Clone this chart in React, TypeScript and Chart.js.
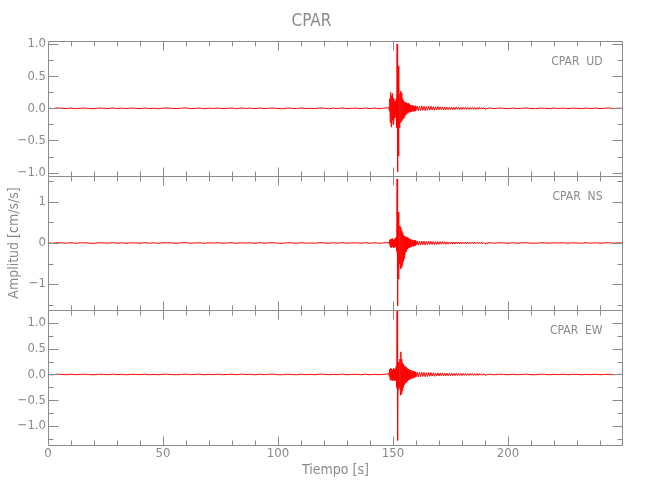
import React, { useEffect, useRef } from "react";
import { Chart, registerables } from "chart.js";

Chart.register(...registerables);

// ---- time samples (s) ----
const TIME_PRE = [0,2,4,6,8,10,12,14,16,18,20,22,24,26,28,30,32,34,36,38,40,42,44,46,48,50,52,54,56,58,60,62,64,66,68,70,72,74,76,78,80,82,84,86,88,90,92,94,96,98,100,102,104,106,108,110,112,114,116,118,120,122,124,126,128,130,132,134,136,138,140,142,144,146,148];
const TIME_EVENT = [148.2,148.4,148.6,148.8,149,149.2,149.4,149.6,149.8,150,150.2,150.4,150.6,150.8,151,151.2,151.4,151.6,151.8,152,152.2,152.4,152.6,152.8,153,153.2,153.4,153.6,153.8,154,154.2,154.4,154.6,154.8,155,155.2,155.4,155.6,155.8,156,156.2,156.4,156.6,156.8,157,157.2,157.4,157.6,157.8,158,158.2,158.4,158.6,158.8,159,159.2,159.4,159.6,159.8,160];
const TIME_CODA = [160.5,161,161.5,162,162.5,163,163.5,164,164.5,165,165.5,166,166.5,167,167.5,168,168.5,169,169.5,170,170.5,171,171.5,172,172.5,173,173.5,174,174.5,175,175.5,176,176.5,177,177.5,178,178.5,179,179.5,180,180.5,181,181.5,182,182.5,183,183.5,184,184.5,185,185.5,186,186.5,187,187.5,188,188.5,189,189.5,190];
const TIME_POST = [192,194,196,198,200,202,204,206,208,210,212,214,216,218,220,222,224,226,228,230,232,234,236,238,240,242,244,246,248,250];

// ---- UD component (cm/s/s) ----
const UD_PRE = [0.003,-0.005,0.006,0.001,-0.004,0.005,-0.006,0.002,0.004,-0.003,-0.006,0.005,0.002,-0.004,0.006,-0.002,0.003,-0.005,0.004,0.001,-0.005,0.006,-0.003,0.002,-0.006,0.004,0.005,-0.002,-0.004,0.003,0.006,-0.005,0.001,0.004,-0.006,0.003,-0.002,0.005,-0.004,0.002,0.004,-0.006,0.005,-0.001,0.003,-0.005,0.006,-0.004,0.002,0.005,-0.003,-0.006,0.004,0.002,-0.005,0.006,-0.003,0.001,-0.004,0.005,0.003,-0.006,0.004,-0.002,0.006,-0.005,0.002,0.003,-0.004,0.006,-0.005,0.004,-0.006,0.003,0.008];
const UD_EVENT = [0.02,-0.04,0.15,-0.22,0.25,-0.29,0.20,-0.18,0.23,-0.25,0.16,-0.20,0.12,-0.15,0.10,-0.12,0.15,-0.30,1.00,-0.99,0.66,-0.74,0.40,-0.30,0.22,-0.22,0.27,-0.20,0.24,-0.18,0.15,-0.16,0.12,-0.14,0.10,-0.11,0.09,-0.10,0.08,-0.08,0.07,-0.07,0.08,-0.06,0.06,-0.06,0.05,-0.06,0.05,-0.05,0.05,-0.04,0.04,-0.05,0.04,-0.04,0.03,-0.04,0.04,-0.03];
const UD_CODA = [0.035,-0.04,0.03,-0.035,0.04,-0.03,0.032,-0.036,0.028,-0.03,0.03,-0.028,0.032,-0.025,0.026,-0.03,0.024,-0.026,0.028,-0.022,0.024,-0.02,0.022,-0.025,0.02,-0.022,0.018,-0.021,0.02,-0.018,0.019,-0.02,0.016,-0.018,0.02,-0.015,0.017,-0.019,0.015,-0.016,0.016,-0.014,0.018,-0.015,0.013,-0.017,0.015,-0.013,0.014,-0.016,0.013,-0.015,0.012,-0.014,0.015,-0.012,0.013,-0.014,0.011,-0.013];
const UD_POST = [0.006,-0.004,0.005,0.001,-0.006,0.004,-0.005,0.002,0.006,-0.003,-0.005,0.004,0.002,-0.006,0.005,-0.002,0.004,-0.005,0.003,0.001,-0.006,0.005,-0.003,0.004,-0.005,0.002,0.005,-0.004,0.003,-0.002];

// ---- NS component ----
const NS_PRE = [0.004,-0.007,0.008,0.002,-0.005,0.007,-0.008,0.003,0.005,-0.004,-0.008,0.006,0.002,-0.005,0.008,-0.003,0.004,-0.007,0.005,0.001,-0.006,0.008,-0.004,0.003,-0.007,0.005,0.006,-0.002,-0.005,0.004,0.008,-0.006,0.002,0.005,-0.008,0.004,-0.003,0.007,-0.005,0.002,0.005,-0.008,0.006,-0.002,0.004,-0.007,0.008,-0.005,0.003,0.006,-0.004,-0.008,0.005,0.003,-0.006,0.007,-0.004,0.001,-0.005,0.007,0.004,-0.008,0.005,-0.003,0.008,-0.006,0.003,0.004,-0.005,0.007,-0.006,0.005,-0.008,0.004,0.01];
const NS_EVENT = [0.02,-0.03,0.08,-0.1,0.09,-0.11,0.1,-0.08,0.11,-0.1,0.08,-0.12,0.1,-0.09,0.12,-0.1,0.14,-0.2,1.56,-1.53,0.75,-0.88,0.35,-0.5,0.42,-0.63,0.38,-0.6,0.3,-0.55,0.25,-0.45,0.2,-0.38,0.17,-0.3,0.15,-0.22,0.14,-0.16,0.13,-0.14,0.12,-0.11,0.1,-0.12,0.09,-0.1,0.08,-0.09,0.08,-0.07,0.07,-0.08,0.06,-0.07,0.06,-0.06,0.07,-0.05];
const NS_CODA = [0.05,-0.055,0.045,-0.05,0.048,-0.042,0.046,-0.05,0.04,-0.044,0.042,-0.038,0.04,-0.036,0.038,-0.04,0.034,-0.036,0.035,-0.032,0.032,-0.03,0.034,-0.028,0.03,-0.032,0.027,-0.029,0.028,-0.025,0.026,-0.028,0.024,-0.026,0.027,-0.022,0.025,-0.024,0.022,-0.023,0.022,-0.02,0.024,-0.021,0.019,-0.022,0.02,-0.018,0.021,-0.02,0.018,-0.02,0.017,-0.019,0.02,-0.016,0.018,-0.019,0.015,-0.017];
const NS_POST = [0.007,-0.005,0.006,0.002,-0.007,0.005,-0.006,0.003,0.007,-0.004,-0.006,0.005,0.003,-0.007,0.006,-0.002,0.005,-0.006,0.004,0.001,-0.007,0.006,-0.004,0.005,-0.006,0.003,0.006,-0.005,0.004,-0.002];

// ---- EW component ----
const EW_PRE = [0.004,-0.006,0.005,0.002,-0.005,0.006,-0.004,0.001,0.005,-0.003,-0.006,0.004,0.003,-0.005,0.006,-0.002,0.004,-0.006,0.003,0.002,-0.004,0.006,-0.005,0.001,-0.006,0.005,0.004,-0.003,-0.005,0.002,0.006,-0.004,0.002,0.005,-0.006,0.004,-0.003,0.006,-0.005,0.001,0.005,-0.005,0.006,-0.002,0.004,-0.006,0.005,-0.003,0.003,0.006,-0.004,-0.005,0.005,0.001,-0.006,0.005,-0.004,0.002,-0.005,0.006,0.004,-0.005,0.003,-0.003,0.006,-0.006,0.003,0.002,-0.005,0.005,-0.006,0.003,-0.005,0.004,0.01];
const EW_EVENT = [0.03,-0.04,0.1,-0.11,0.12,-0.1,0.11,-0.12,0.09,-0.11,0.12,-0.09,0.1,-0.12,0.11,-0.1,0.16,-0.25,1.24,-1.28,0.24,-0.3,0.2,-0.25,0.3,-0.4,0.44,-0.38,0.3,-0.32,0.22,-0.25,0.2,-0.2,0.16,-0.18,0.15,-0.16,0.13,-0.14,0.11,-0.12,0.1,-0.1,0.09,-0.1,0.08,-0.09,0.08,-0.07,0.08,-0.07,0.06,-0.07,0.06,-0.05,0.06,-0.05,0.05,-0.05];
const EW_CODA = [0.045,-0.05,0.04,-0.045,0.042,-0.038,0.04,-0.044,0.035,-0.04,0.036,-0.033,0.038,-0.03,0.032,-0.035,0.03,-0.032,0.031,-0.028,0.028,-0.026,0.03,-0.025,0.027,-0.028,0.024,-0.026,0.025,-0.022,0.023,-0.025,0.021,-0.023,0.024,-0.02,0.022,-0.021,0.02,-0.021,0.02,-0.018,0.021,-0.019,0.017,-0.02,0.018,-0.016,0.019,-0.018,0.016,-0.018,0.015,-0.017,0.018,-0.014,0.016,-0.017,0.013,-0.015];
const EW_POST = [0.006,-0.005,0.004,0.002,-0.006,0.005,-0.004,0.001,0.006,-0.004,-0.005,0.005,0.002,-0.006,0.004,-0.003,0.005,-0.005,0.003,0.002,-0.006,0.004,-0.004,0.005,-0.005,0.002,0.004,-0.005,0.003,-0.002];

// ---- axes / labels ----
const TITLE = "CPAR";
const X_TITLE = "Tiempo [s]";
const Y_TITLE = "Amplitud [cm/s/s]";
const PANEL_LABELS = ["CPAR  UD", "CPAR  NS", "CPAR  EW"];
const X_RANGE = [0, 250];
const X_MAJOR = [0, 50, 100, 150, 200];
const X_MINOR = [10,20,30,40,60,70,80,90,110,120,130,140,160,170,180,190,210,220,230,240];
const UD_RANGE = [-1.047, 1.047];
const UD_MAJOR = [-1, -0.5, 0, 0.5, 1];
const UD_MINOR = [-0.75, -0.25, 0.25, 0.75];
const NS_RANGE = [-1.64, 1.64];
const NS_MAJOR = [-1, 0, 1];
const NS_MINOR = [-1.5, -0.5, 0.5, 1.5];
const EW_RANGE = [-1.37, 1.246];
const EW_MAJOR = [-1, -0.5, 0, 0.5, 1];
const EW_MINOR = [-1.25, -0.75, -0.25, 0.25, 0.75];

const TIME = [...TIME_PRE, ...TIME_EVENT, ...TIME_CODA, ...TIME_POST];
const UD = [...UD_PRE, ...UD_EVENT, ...UD_CODA, ...UD_POST];
const NS = [...NS_PRE, ...NS_EVENT, ...NS_CODA, ...NS_POST];
const EW = [...EW_PRE, ...EW_EVENT, ...EW_CODA, ...EW_POST];

const FONT = "'Liberation Sans Narrow', 'DejaVu Sans Condensed', 'DejaVu Sans', sans-serif";
const GRAY = "#8a8a8a";
const TRACE = "#ff0000";

const fmt1 = (v: number) => (v < 0 ? "\u2212" : "") + Math.abs(v).toFixed(1);
const fmt0 = (v: number) => (v < 0 ? "\u2212" : "") + Math.abs(v).toFixed(0);

const PANELS = [
  { id: "y1", major: UD_MAJOR, minor: UD_MINOR, label: PANEL_LABELS[0] },
  { id: "y2", major: NS_MAJOR, minor: NS_MINOR, label: PANEL_LABELS[1] },
  { id: "y3", major: EW_MAJOR, minor: EW_MINOR, label: PANEL_LABELS[2] },
];

const framePlugin = {
  id: "idlFrames",
  afterDatasetsDraw(chart: any) {
    const { ctx, chartArea, scales } = chart;
    const xs = scales.x;
    const L = Math.round(chartArea.left) + 0.5;
    const R = Math.round(chartArea.right) - 0.5;
    ctx.save();
    ctx.strokeStyle = GRAY;
    ctx.lineWidth = 1;
    PANELS.forEach((p) => {
      const s = scales[p.id];
      const T = Math.round(s.top) + 0.5;
      const B = Math.round(s.bottom) + 0.5;
      ctx.beginPath();
      ctx.rect(L, T, R - L, B - T);
      const xt = (v: number, len: number) => {
        const px = Math.round(xs.getPixelForValue(v)) + 0.5;
        ctx.moveTo(px, T); ctx.lineTo(px, T + len);
        ctx.moveTo(px, B); ctx.lineTo(px, B - len);
      };
      X_MAJOR.forEach((v) => { if (v > X_RANGE[0] && v < X_RANGE[1]) xt(v, 9); });
      X_MINOR.forEach((v) => xt(v, 5));
      const yt = (v: number, len: number) => {
        const py = Math.round(s.getPixelForValue(v)) + 0.5;
        ctx.moveTo(L, py); ctx.lineTo(L + len, py);
        ctx.moveTo(R, py); ctx.lineTo(R - len, py);
      };
      p.major.forEach((v) => yt(v, 10));
      p.minor.forEach((v) => yt(v, 5));
      ctx.stroke();
      ctx.fillStyle = GRAY;
      ctx.font = `12px ${FONT}`;
      ctx.textAlign = "right";
      ctx.textBaseline = "middle";
      ctx.fillText(p.label, R - 20, s.top + 21);
    });
    ctx.restore();
  },
};

function yScale(range: number[], major: number[], weight: number, fmt: (v: number) => string, title?: string) {
  return {
    type: "linear",
    position: "left",
    stack: "panels",
    stackWeight: 1,
    weight,
    min: range[0],
    max: range[1],
    grid: { display: false, drawTicks: false },
    border: { display: false },
    ticks: {
      font: { family: FONT, size: 13 },
      color: GRAY,
      padding: 2,
      autoSkip: false,
      callback: (v: any) => fmt(Number(v)),
    },
    afterBuildTicks: (s: any) => { s.ticks = major.map((v) => ({ value: v })); },
    afterFit: (s: any) => { s.width = 48; },
    title: title
      ? { display: true, text: title, font: { family: FONT, size: 14 }, color: GRAY, padding: { top: 6, bottom: 0 } }
      : { display: false },
  };
}

export default function App() {
  const ref = useRef<HTMLCanvasElement | null>(null);
  useEffect(() => {
    if (!ref.current) return;
    const mk = (ys: number[], id: string) => ({
      data: TIME.map((t, i) => ({ x: t, y: ys[i] })),
      yAxisID: id,
      borderColor: TRACE,
      borderWidth: 1,
      pointRadius: 0,
      fill: false,
      tension: 0,
    });
    const chart = new Chart(ref.current, {
      type: "line",
      data: { datasets: [mk(UD, "y1"), mk(NS, "y2"), mk(EW, "y3")] as any },
      options: {
        responsive: false,
        devicePixelRatio: 1,
        animation: false,
        layout: { padding: { left: 0, right: 27, top: 0, bottom: 0 } },
        plugins: {
          legend: { display: false },
          tooltip: { enabled: false },
          title: {
            display: true,
            text: TITLE,
            color: GRAY,
            font: { family: FONT, size: 17, weight: "normal", lineHeight: "20px" } as any,
            padding: { top: 12, bottom: 9 },
          },
        },
        scales: {
          x: {
            type: "linear",
            min: X_RANGE[0],
            max: X_RANGE[1],
            grid: { display: false, drawTicks: false },
            border: { display: false },
            ticks: {
              font: { family: FONT, size: 13 },
              color: GRAY,
              padding: 1,
              maxRotation: 0,
              autoSkip: false,
              callback: (v: any) => String(v),
            },
            afterBuildTicks: (s: any) => { s.ticks = X_MAJOR.map((v) => ({ value: v })); },
            afterFit: (s: any) => { s.height = 55; },
            title: { display: true, text: X_TITLE, font: { family: FONT, size: 14 }, color: GRAY, padding: { top: 0, bottom: 21 } },
          },
          y1: yScale(UD_RANGE, UD_MAJOR, 3, fmt1),
          y2: yScale(NS_RANGE, NS_MAJOR, 2, fmt0, Y_TITLE),
          y3: yScale(EW_RANGE, EW_MAJOR, 1, fmt1),
        } as any,
      },
      plugins: [framePlugin],
    });
    return () => chart.destroy();
  }, []);
  return (
    <div style={{ position: "fixed", left: 0, top: 0, width: 650, height: 500, background: "#fff" }}>
      <canvas ref={ref} width={650} height={500} style={{ display: "block", width: 650, height: 500 }} />
    </div>
  );
}
